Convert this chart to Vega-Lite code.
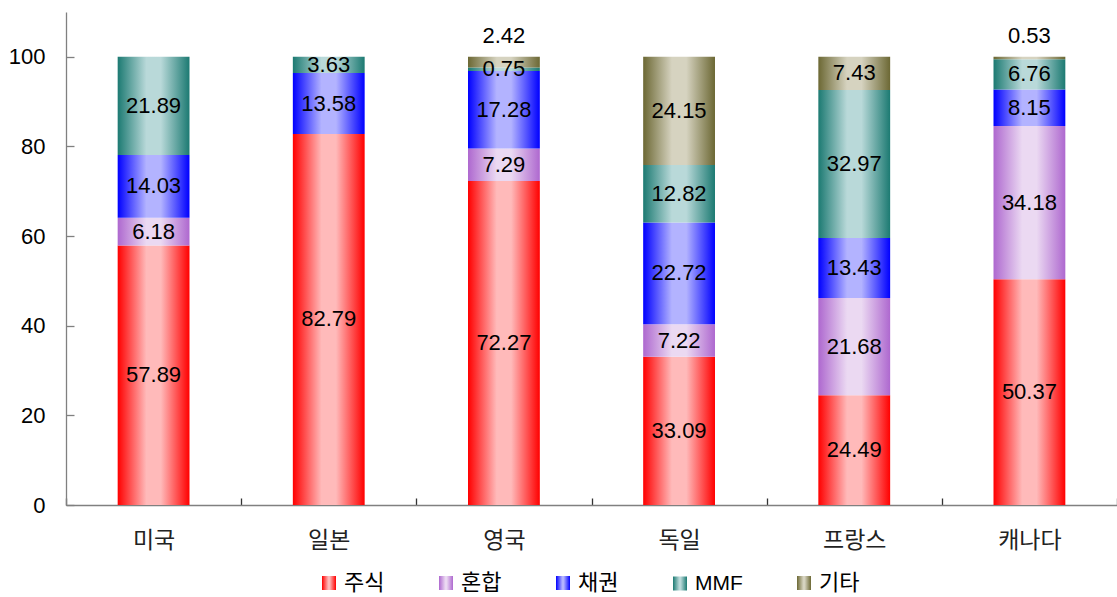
{
  "$schema": "https://vega.github.io/schema/vega-lite/v6.json",
  "width": 1051,
  "height": 493,
  "autosize": {"type": "none"},
  "padding": {"left": 66, "top": 12, "right": 0, "bottom": 92},
  "background": "white",
  "config": {
    "view": {"stroke": null},
    "font": "Liberation Sans",
    "axis": {"labelColor": "#000000", "labelFontSize": 22, "domainColor": "#808080", "tickColor": "#808080", "domainWidth": 1.3, "tickWidth": 1.3}
  },
  "data": {
    "values": [
      {"country": "미국", "type": "주식", "k": 1, "value": 57.89},
      {"country": "미국", "type": "혼합", "k": 2, "value": 6.18},
      {"country": "미국", "type": "채권", "k": 3, "value": 14.03},
      {"country": "미국", "type": "MMF", "k": 4, "value": 21.89},
      {"country": "일본", "type": "주식", "k": 1, "value": 82.79},
      {"country": "일본", "type": "채권", "k": 3, "value": 13.58},
      {"country": "일본", "type": "MMF", "k": 4, "value": 3.63},
      {"country": "영국", "type": "주식", "k": 1, "value": 72.27},
      {"country": "영국", "type": "혼합", "k": 2, "value": 7.29},
      {"country": "영국", "type": "채권", "k": 3, "value": 17.28},
      {"country": "영국", "type": "MMF", "k": 4, "value": 0.75},
      {"country": "영국", "type": "기타", "k": 5, "value": 2.42},
      {"country": "독일", "type": "주식", "k": 1, "value": 33.09},
      {"country": "독일", "type": "혼합", "k": 2, "value": 7.22},
      {"country": "독일", "type": "채권", "k": 3, "value": 22.72},
      {"country": "독일", "type": "MMF", "k": 4, "value": 12.82},
      {"country": "독일", "type": "기타", "k": 5, "value": 24.15},
      {"country": "프랑스", "type": "주식", "k": 1, "value": 24.49},
      {"country": "프랑스", "type": "혼합", "k": 2, "value": 21.68},
      {"country": "프랑스", "type": "채권", "k": 3, "value": 13.43},
      {"country": "프랑스", "type": "MMF", "k": 4, "value": 32.97},
      {"country": "프랑스", "type": "기타", "k": 5, "value": 7.43},
      {"country": "캐나다", "type": "주식", "k": 1, "value": 50.37},
      {"country": "캐나다", "type": "혼합", "k": 2, "value": 34.18},
      {"country": "캐나다", "type": "채권", "k": 3, "value": 8.15},
      {"country": "캐나다", "type": "MMF", "k": 4, "value": 6.76},
      {"country": "캐나다", "type": "기타", "k": 5, "value": 0.53}
    ]
  },
  "transform": [
    {"stack": "value", "groupby": ["country"], "sort": [{"field": "k", "order": "ascending"}], "as": ["y0", "y1"]},
    {"calculate": "(datum.y0 + datum.y1) / 2", "as": "ym"}
  ],
  "encoding": {
    "x": {
      "field": "country",
      "type": "nominal",
      "sort": ["미국", "일본", "영국", "독일", "프랑스", "캐나다"],
      "scale": {"paddingInner": 0, "paddingOuter": 0},
      "axis": {
        "title": null,
        "labelAngle": 0,
        "labelFont": "Noto Sans CJK KR",
        "labelFontSize": 23,
        "labelColor": "#222222",
        "tickBand": "extent",
        "tickSize": -7,
        "tickColor": "#333333",
        "labelPadding": 31
      }
    }
  },
  "layer": [
    {
      "mark": {"type": "bar", "width": {"band": 0.41}},
      "encoding": {
        "y": {
          "field": "y1",
          "type": "quantitative",
          "scale": {"domain": [0, 110], "nice": false},
          "axis": {"title": null, "values": [0, 20, 40, 60, 80, 100], "grid": false, "tickSize": -8, "labelPadding": 29}
        },
        "y2": {"field": "y0"},
        "opacity": {
          "field": "type",
          "type": "ordinal",
          "scale": {"domain": ["주식", "혼합", "채권", "MMF", "기타"], "range": [1, 1, 1, 1, 1]},
          "legend": {
            "title": null,
            "orient": "none",
            "legendX": 256,
            "legendY": 564,
            "direction": "horizontal",
            "padding": 0,
            "symbolType": "square",
            "symbolSize": 196,
            "symbolStrokeWidth": 0,
            "labelFont": "Liberation Sans, Noto Sans CJK KR",
            "labelFontSize": 21,
            "labelColor": "#000000",
            "labelOffset": 8,
            "columnPadding": 54,
            "encoding": {
              "labels": {
                "fontSize": {"condition": {"test": "datum.value === 'MMF'", "value": 21}, "value": 22}
              },
              "symbols": {
                "fill": {
                  "condition": [
                    {"test": "datum.value === '주식'", "value": {"gradient": "linear", "x1": 0, "y1": 0, "x2": 1, "y2": 0, "stops": [{"offset": 0, "color": "#FF0000"}, {"offset": 0.45, "color": "#FFBABA"}, {"offset": 0.55, "color": "#FFBABA"}, {"offset": 1, "color": "#FF0000"}]}},
                    {"test": "datum.value === '혼합'", "value": {"gradient": "linear", "x1": 0, "y1": 0, "x2": 1, "y2": 0, "stops": [{"offset": 0, "color": "#AE68CF"}, {"offset": 0.45, "color": "#EBD9F2"}, {"offset": 0.55, "color": "#EBD9F2"}, {"offset": 1, "color": "#AE68CF"}]}},
                    {"test": "datum.value === '채권'", "value": {"gradient": "linear", "x1": 0, "y1": 0, "x2": 1, "y2": 0, "stops": [{"offset": 0, "color": "#0000FF"}, {"offset": 0.45, "color": "#B3B3FF"}, {"offset": 0.55, "color": "#B3B3FF"}, {"offset": 1, "color": "#0000FF"}]}},
                    {"test": "datum.value === 'MMF'", "value": {"gradient": "linear", "x1": 0, "y1": 0, "x2": 1, "y2": 0, "stops": [{"offset": 0, "color": "#1C7A72"}, {"offset": 0.45, "color": "#B9D9D9"}, {"offset": 0.55, "color": "#B9D9D9"}, {"offset": 1, "color": "#1C7A72"}]}}
                  ],
                  "value": {"gradient": "linear", "x1": 0, "y1": 0, "x2": 1, "y2": 0, "stops": [{"offset": 0, "color": "#6C6834"}, {"offset": 0.45, "color": "#D6D3C0"}, {"offset": 0.55, "color": "#D6D3C0"}, {"offset": 1, "color": "#6C6834"}]}
                }
              }
            }
          }
        },
        "fill": {
          "condition": [
            {"test": "datum.type === '주식'", "value": {"gradient": "linear", "x1": 0, "y1": 0, "x2": 1, "y2": 0, "stops": [{"offset": 0, "color": "#FF0000"}, {"offset": 0.4, "color": "#FFBABA"}, {"offset": 0.6, "color": "#FFBABA"}, {"offset": 1, "color": "#FF0000"}]}},
            {"test": "datum.type === '혼합'", "value": {"gradient": "linear", "x1": 0, "y1": 0, "x2": 1, "y2": 0, "stops": [{"offset": 0, "color": "#AE68CF"}, {"offset": 0.4, "color": "#EBD9F2"}, {"offset": 0.6, "color": "#EBD9F2"}, {"offset": 1, "color": "#AE68CF"}]}},
            {"test": "datum.type === '채권'", "value": {"gradient": "linear", "x1": 0, "y1": 0, "x2": 1, "y2": 0, "stops": [{"offset": 0, "color": "#0000FF"}, {"offset": 0.4, "color": "#B3B3FF"}, {"offset": 0.6, "color": "#B3B3FF"}, {"offset": 1, "color": "#0000FF"}]}},
            {"test": "datum.type === 'MMF'", "value": {"gradient": "linear", "x1": 0, "y1": 0, "x2": 1, "y2": 0, "stops": [{"offset": 0, "color": "#1C7A72"}, {"offset": 0.4, "color": "#B9D9D9"}, {"offset": 0.6, "color": "#B9D9D9"}, {"offset": 1, "color": "#1C7A72"}]}}
          ],
          "value": {"gradient": "linear", "x1": 0, "y1": 0, "x2": 1, "y2": 0, "stops": [{"offset": 0, "color": "#6C6834"}, {"offset": 0.4, "color": "#D6D3C0"}, {"offset": 0.6, "color": "#D6D3C0"}, {"offset": 1, "color": "#6C6834"}]}
        }
      }
    },
    {
      "transform": [{"filter": "!(datum.type === '기타' && datum.value < 3)"}],
      "mark": {"type": "text", "fontSize": 22, "color": "#000000", "baseline": "middle"},
      "encoding": {
        "y": {"field": "ym", "type": "quantitative"},
        "text": {"field": "value", "type": "quantitative", "format": ".2f"}
      }
    },
    {
      "transform": [{"filter": "datum.type === '기타' && datum.value < 3"}],
      "mark": {"type": "text", "fontSize": 22, "color": "#000000", "baseline": "alphabetic", "dy": -14},
      "encoding": {
        "y": {"field": "y1", "type": "quantitative"},
        "text": {"field": "value", "type": "quantitative", "format": ".2f"}
      }
    }
  ]
}
